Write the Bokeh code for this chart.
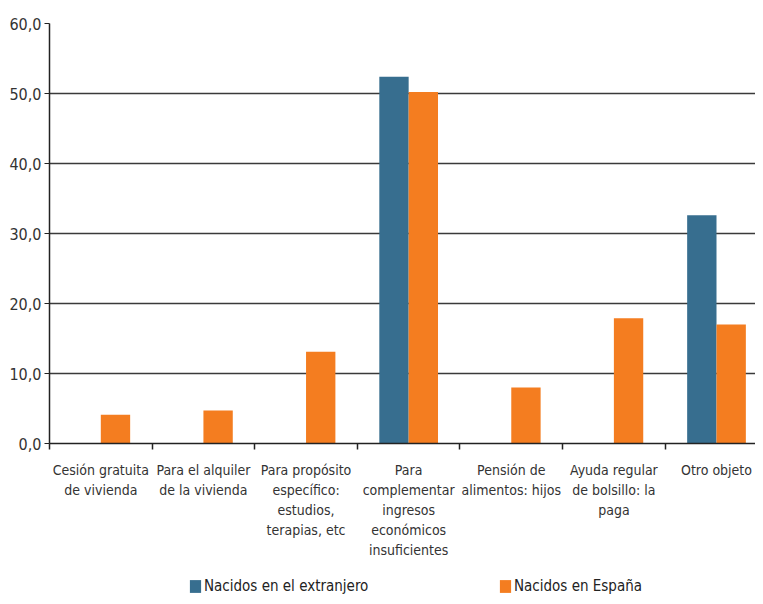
from bokeh.plotting import figure
from bokeh.layouts import column
from bokeh.models import (ColumnDataSource, Range1d, FixedTicker, Legend, LegendItem)
from bokeh.embed import file_html
from bokeh.resources import INLINE

categories = [
    "Cesión gratuita\nde vivienda",
    "Para el alquiler\nde la vivienda",
    "Para propósito\nespecífico:\nestudios,\nterapias, etc",
    "Para\ncomplementar\ningresos\neconómicos\ninsuficientes",
    "Pensión de\nalimentos: hijos",
    "Ayuda regular\nde bolsillo: la\npaga",
    "Otro objeto",
]
extranjero = [0.0, 0.0, 0.0, 52.4, 0.0, 0.0, 32.6]
espana = [4.1, 4.7, 13.1, 50.2, 8.0, 17.9, 17.0]
y_ticks = [0, 10, 20, 30, 40, 50, 60]
y_tick_labels = ["0,0", "10,0", "20,0", "30,0", "40,0", "50,0", "60,0"]
series_names = ["Nacidos en el extranjero", "Nacidos en España"]

BLUE = "#376E8F"
ORANGE = "#F47D20"
FONT = "DejaVu Sans Condensed"

centers = [i + 0.5 for i in range(len(categories))]
bw = 0.286
src = ColumnDataSource(dict(
    xb=[c - bw / 2 for c in centers],
    xo=[c + bw / 2 for c in centers],
    ext=extranjero,
    esp=espana,
))

p = figure(width=755, height=572, output_backend="svg", toolbar_location=None,
           x_range=Range1d(0, 6.88), y_range=Range1d(0, 60),
           min_border_left=49, min_border_right=0, min_border_top=23,
           min_border_bottom=129)
p.outline_line_color = None
p.background_fill_color = "white"
p.border_fill_color = "white"

rb = p.vbar(x="xb", top="ext", width=bw, source=src, color=BLUE, line_color=None)
ro = p.vbar(x="xo", top="esp", width=bw, source=src, color=ORANGE, line_color=None)

# y axis
p.yaxis.ticker = FixedTicker(ticks=y_ticks)
p.yaxis.major_label_overrides = {t: l for t, l in zip(y_ticks, y_tick_labels)}
p.yaxis.major_label_text_font = FONT
p.yaxis.major_label_text_font_size = "16px"
p.yaxis.major_label_text_color = "#333333"
p.yaxis.major_label_standoff = 3
p.yaxis.major_tick_out = 5
p.yaxis.major_tick_in = 0
p.yaxis.minor_tick_line_color = None
p.yaxis.axis_line_color = "#222222"
p.yaxis.major_tick_line_color = "#222222"
p.yaxis.axis_line_width = 1.5

# x axis: labels at centers, ticks at boundaries
p.xaxis.ticker = FixedTicker(ticks=centers, minor_ticks=list(range(len(categories) + 1)))
p.xaxis.major_label_overrides = {c: l for c, l in zip(centers, categories)}
p.xaxis.major_label_text_font = FONT
p.xaxis.major_label_text_font_size = "14px"
p.xaxis.major_label_text_color = "#333333"
p.xaxis.major_label_text_line_height = 1.25
p.xaxis.major_label_standoff = 12
p.xaxis.major_tick_line_color = None
p.xaxis.minor_tick_out = 6
p.xaxis.minor_tick_in = 0
p.xaxis.minor_tick_line_color = "#222222"
p.xaxis.minor_tick_line_width = 1.5
p.xaxis.axis_line_color = "#222222"
p.xaxis.axis_line_width = 1.5

p.xgrid.grid_line_color = None
p.ygrid.ticker = FixedTicker(ticks=y_ticks)
p.ygrid.grid_line_color = "#3a3a3a"
p.ygrid.grid_line_width = 1.5

# legend strip below the chart
pl = figure(width=755, height=24, output_backend="svg", toolbar_location=None,
            x_range=Range1d(0, 1), y_range=Range1d(0, 1),
            x_axis_location=None, y_axis_location=None,
            min_border_left=0, min_border_right=0, min_border_top=0, min_border_bottom=0)
pl.grid.visible = False
pl.outline_line_color = None
dummy = ColumnDataSource(dict(x=[-10.0], top=[-10.0]))
db = pl.vbar(x="x", top="top", width=0.1, source=dummy, color=BLUE, line_color=None)
do = pl.vbar(x="x", top="top", width=0.1, source=dummy, color=ORANGE, line_color=None)
for r, name, xloc in [(db, series_names[0], 139), (do, series_names[1], 449)]:
    lg = Legend(items=[LegendItem(label=name, renderers=[r])], location=(xloc, 0),
                orientation="horizontal", padding=0, margin=0, border_line_color=None,
                background_fill_alpha=0, glyph_width=14, glyph_height=16,
                label_standoff=2, label_text_font=FONT, label_text_font_size="15px",
                label_text_color="#222222", label_height=20)
    pl.add_layout(lg, "center")

layout = column(p, pl, spacing=0)
open("out.html", "w").write(file_html(layout, INLINE))
